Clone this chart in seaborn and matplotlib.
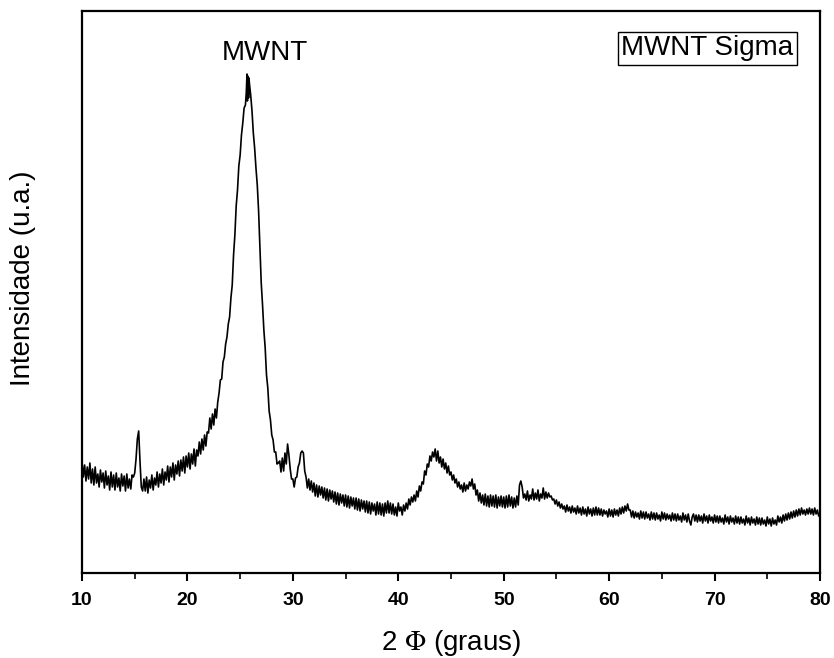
import numpy as np
import pandas as pd
import matplotlib
matplotlib.use("Agg")
import matplotlib.pyplot as plt
import seaborn as sns
from matplotlib.ticker import MultipleLocator

sns.set_theme(style="white")
plt.rcParams['font.family'] = ['Liberation Sans', 'DejaVu Sans']
plt.rcParams['mathtext.fontset'] = 'stix'
plt.rcParams['text.color'] = 'black'
plt.rcParams['axes.labelcolor'] = 'black'
plt.rcParams['xtick.color'] = 'black'
plt.rcParams['ytick.color'] = 'black'

# 2-theta grid start / step (degrees) for the intensity readings below
theta_start = 10.0
theta_step = 0.125
# intensity (a.u.), 8 readings per degree, 10 -> 80
intensity = [
    112, 96, 108, 92, 106, 94, 110, 90,      # 10
    104, 88, 106, 90, 99, 86, 103, 91,       # 11
    100, 85, 102, 88, 97, 83, 101, 86,       # 12
    98, 83, 100, 86, 95, 82, 99, 87,         # 13
    97, 82, 99, 85, 94, 84, 98, 96,          # 14
    100, 114, 134, 142, 112, 86, 82, 94,     # 15
    82, 96, 80, 93, 85, 98, 83, 95,          # 16
    88, 101, 86, 99, 90, 104, 88, 101,       # 17
    93, 107, 91, 106, 96, 110, 93, 108,      # 18
    99, 112, 97, 113, 102, 116, 100, 117,    # 19
    106, 120, 104, 119, 109, 124, 107, 123,  # 20
    117, 131, 119, 134, 123, 138, 127, 141,  # 21
    140, 155, 144, 159, 148, 164, 155, 171,  # 22
    180, 193, 194, 211, 216, 229, 236, 249,  # 23
    256, 275, 288, 318, 338, 367, 383, 407,  # 24
    418, 438, 450, 465, 468, 493, 485, 490,  # 25
    478, 462, 440, 425, 405, 388, 362, 325,  # 26
    290, 268, 243, 225, 198, 185, 162, 153,  # 27
    138, 133, 121, 121, 109, 110, 112, 101,  # 28
    115, 102, 120, 109, 129, 118, 104, 94,   # 29
    94, 86, 95, 96, 106, 110, 120, 122,      # 30
    120, 102, 96, 85, 94, 83, 92, 81,        # 31
    90, 77, 88, 76, 87, 78, 86, 75,          # 32
    85, 73, 84, 72, 83, 74, 82, 71,          # 33
    81, 69, 80, 68, 79, 70, 78, 67,          # 34
    78, 66, 77, 65, 76, 67, 75, 64,          # 35
    75, 63, 74, 62, 73, 64, 72, 61,          # 36
    72, 60, 71, 59, 70, 62, 69, 58,          # 37
    71, 59, 70, 58, 69, 57, 70, 60,          # 38
    72, 60, 70, 59, 69, 58, 66, 57,          # 39
    70, 62, 66, 58, 68, 62, 70, 64,          # 40
    74, 68, 76, 71, 78, 72, 82, 76,          # 41
    87, 82, 91, 89, 102, 98, 109, 106,       # 42
    117, 112, 121, 116, 124, 112, 122, 110,  # 43
    116, 106, 114, 104, 110, 100, 107, 98,   # 44
    101, 93, 98, 90, 94, 86, 91, 84,         # 45
    88, 81, 90, 82, 88, 84, 91, 87,          # 46
    94, 84, 89, 78, 83, 72, 80, 70,          # 47
    78, 68, 79, 67, 77, 66, 78, 67,          # 48
    77, 66, 78, 65, 76, 67, 77, 66,          # 49
    76, 65, 77, 66, 78, 67, 76, 65,          # 50
    75, 66, 77, 68, 88, 92, 86, 75,          # 51
    79, 73, 82, 72, 78, 74, 84, 73,          # 52
    80, 74, 83, 72, 79, 75, 85, 74,          # 53
    81, 75, 80, 76, 77, 73, 74, 69,          # 54
    73, 67, 71, 65, 69, 64, 67, 61,          # 55
    68, 62, 66, 60, 67, 61, 65, 59,          # 56
    67, 60, 65, 58, 66, 59, 64, 57,          # 57
    66, 59, 64, 57, 65, 58, 66, 58,          # 58
    65, 58, 64, 57, 63, 59, 62, 56,          # 59
    64, 57, 63, 56, 64, 58, 63, 57,          # 60
    65, 59, 66, 60, 67, 62, 69, 63,          # 61
    63, 56, 62, 55, 61, 56, 60, 54,          # 62
    62, 55, 61, 54, 61, 55, 59, 53,          # 63
    61, 54, 60, 53, 60, 54, 58, 52,          # 64
    61, 54, 60, 53, 59, 54, 58, 52,          # 65
    60, 53, 59, 52, 59, 53, 57, 51,          # 66
    60, 53, 58, 51, 59, 52, 48, 56,          # 67
    59, 52, 58, 51, 58, 52, 57, 50,          # 68
    59, 52, 57, 50, 58, 52, 56, 50,          # 69
    58, 51, 57, 50, 57, 51, 55, 49,          # 70
    58, 51, 56, 49, 57, 51, 55, 49,          # 71
    57, 50, 56, 49, 56, 50, 54, 48,          # 72
    57, 50, 55, 48, 56, 50, 54, 48,          # 73
    56, 49, 55, 48, 55, 49, 53, 47,          # 74
    56, 49, 54, 47, 55, 49, 53, 48,          # 75
    57, 51, 56, 50, 58, 52, 59, 53,          # 76
    60, 54, 61, 55, 62, 56, 63, 57,          # 77
    64, 58, 65, 59, 63, 58, 64, 59,          # 78
    65, 59, 64, 58, 65, 59, 63, 57,          # 79
    60,                                      # 80
]
# extra readings around the jagged top of the main peak
peak_theta = [25.58, 25.65, 25.69, 25.72, 25.8, 25.84]
peak_intensity = [480, 499, 472, 497, 475, 495]

theta = theta_start + theta_step * np.arange(len(intensity))
df = pd.DataFrame({
    "theta": np.concatenate([theta, peak_theta]),
    "I": np.concatenate([intensity, peak_intensity]),
}).sort_values("theta")

fig = plt.figure(figsize=(8.34, 6.58), dpi=100)
ax = fig.add_axes([82/834, 1 - 573/658, (820-82)/834, (573-11)/658])
sns.lineplot(data=df, x="theta", y="I", color="black", lw=1.2,
             estimator=None, sort=False, ax=ax)

ax.set_xlim(10, 80)
ax.set_ylim(0, 562)
ax.xaxis.set_major_locator(MultipleLocator(10))
ax.xaxis.set_minor_locator(MultipleLocator(5))
ax.set_yticks([])
ax.tick_params(axis="x", which="major", direction="out", length=6, width=1.5,
               bottom=True, labelsize=14, pad=8)
ax.tick_params(axis="x", which="minor", direction="out", length=4, width=1.2,
               bottom=True)
for lab in ax.get_xticklabels():
    lab.set_fontweight("bold")
for s in ax.spines.values():
    s.set_linewidth(1.6)
    s.set_color("black")

ax.set_xlabel("2 $\\mathrm{\\Phi}$ (graus)", fontsize=20)
ax.xaxis.set_label_coords(0.5, -0.097)
ax.set_ylabel("Intensidade (u.a.)", fontsize=20)
ax.yaxis.set_label_coords(-0.062, 0.525)

ax.text(27.36, 520, "MWNT", fontsize=20, ha="center", va="center")
ax.text(0.8476, 0.9333, "MWNT Sigma", transform=ax.transAxes, fontsize=20,
        ha="center", va="center",
        bbox=dict(boxstyle="square,pad=0.12", fc="white", ec="black", lw=1))

fig.savefig("out.png", dpi=100)
